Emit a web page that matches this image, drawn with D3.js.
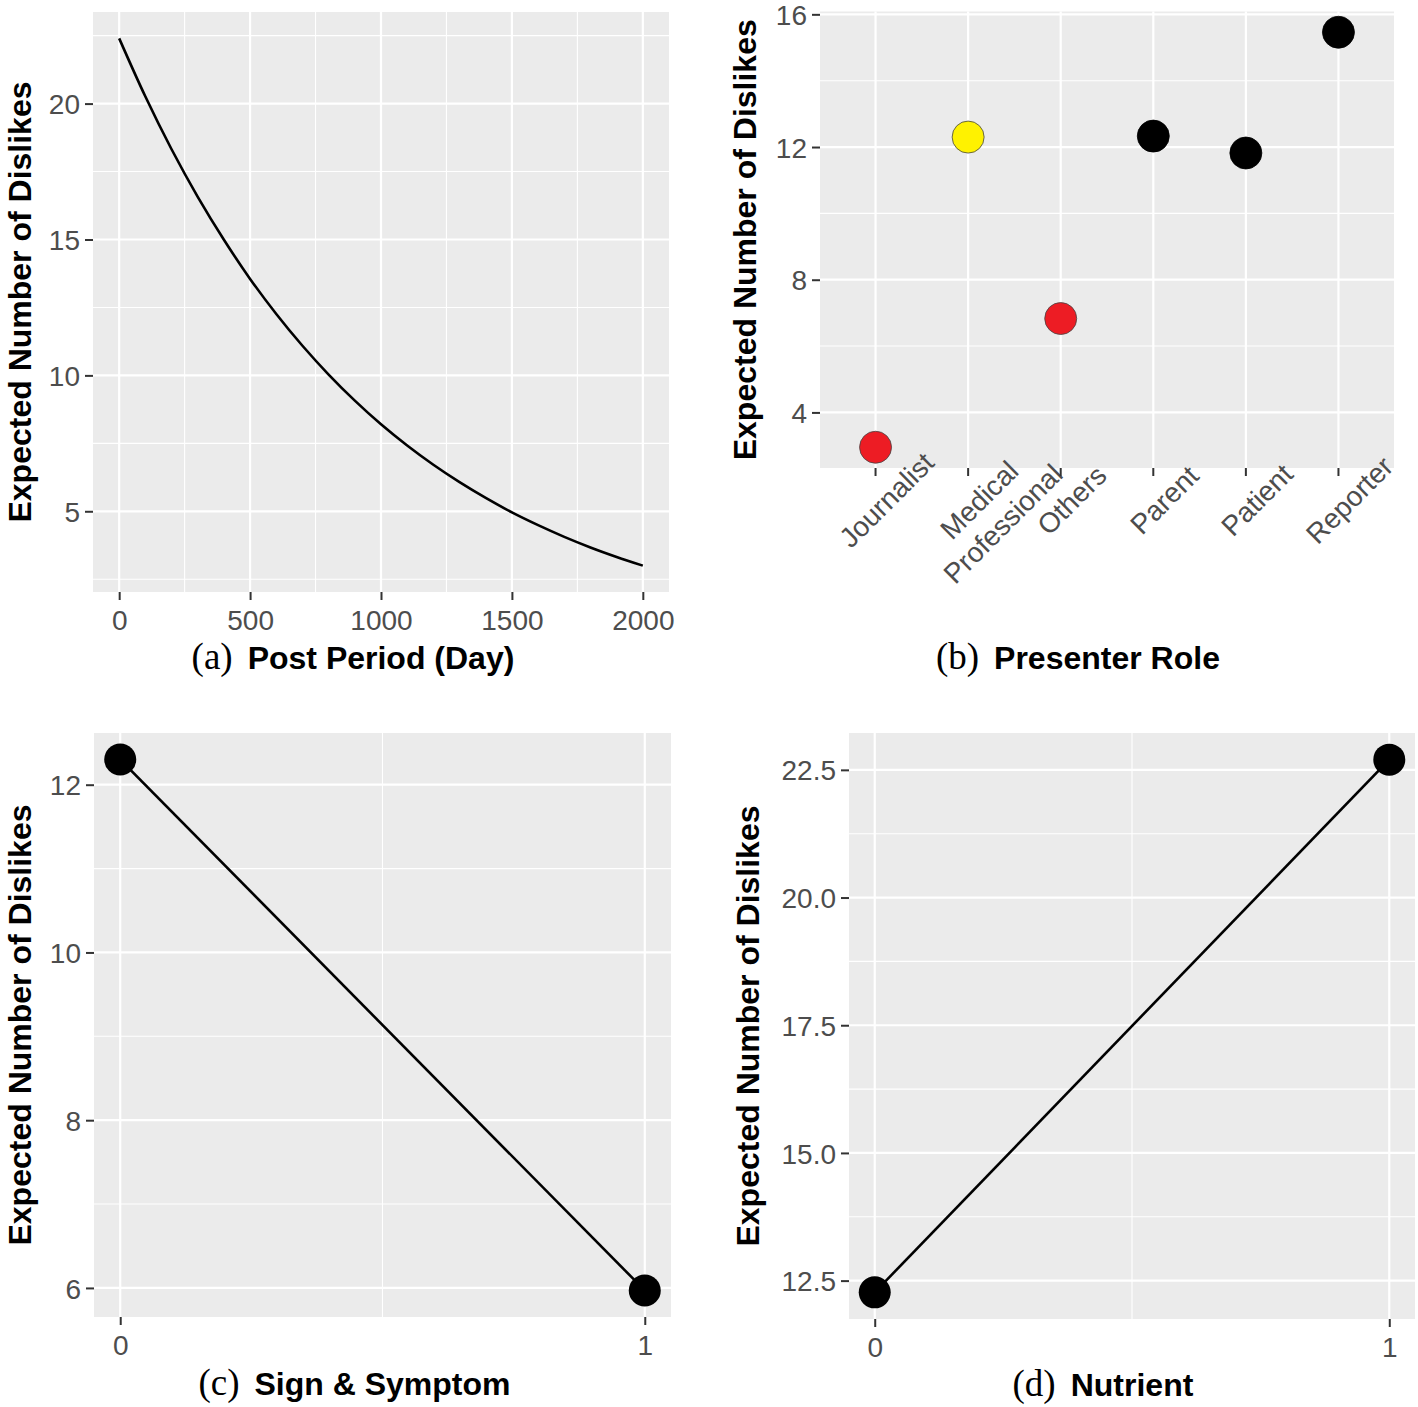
<!DOCTYPE html>
<html>
<head>
<meta charset="utf-8">
<script src="https://cdn.jsdelivr.net/npm/d3@7"></script>
<style>
  html, body { margin: 0; padding: 0; background: #ffffff; }
  svg { display: block; }
</style>
</head>
<body>
<svg id="chart" width="1418" height="1407"></svg>
<script>
// ---------------- DATA ----------------
// (a) Post Period (Day)
const periodDays = [0, 100, 200, 300, 400, 500, 600, 700, 800, 900, 1000,
                    1100, 1200, 1300, 1400, 1500, 1600, 1700, 1800, 1900, 2000];
const periodDislikes = [22.4, 20.26, 18.32, 16.57, 14.99, 13.55, 12.26, 11.09, 10.03, 9.07, 8.2,
                        7.42, 6.71, 6.07, 5.49, 4.96, 4.49, 4.06, 3.67, 3.32, 3.0];
const periodTicksX = [0, 500, 1000, 1500, 2000];
const periodTicksY = [5, 10, 15, 20];

// (b) Presenter Role
const roles = ["Journalist", "Medical\nProfessional", "Others", "Parent", "Patient", "Reporter"];
const roleDislikes = [2.95, 12.3, 6.83, 12.33, 11.82, 15.46];
const roleColors = ["#ED1C24", "#FFF200", "#ED1C24", "#000000", "#000000", "#000000"];
const roleTicksY = [4, 8, 12, 16];

// (c) Sign & Symptom
const signLevels = [0, 1];
const signDislikes = [12.3, 5.97];
const signTicksY = [6, 8, 10, 12];

// (d) Nutrient
const nutrientLevels = [0, 1];
const nutrientDislikes = [12.27, 22.7];
const nutrientTicksY = [12.5, 15, 17.5, 20, 22.5];

const binaryTicksX = [0, 1];

const yTitle = "Expected Number of Dislikes";

// ---------------- STYLE ----------------
const SANS = "'Liberation Sans', Arial, sans-serif";
const SERIF = "'Liberation Serif', 'Times New Roman', serif";
const BG = "#EBEBEB";
const TICK_TEXT = "#4D4D4D";
const TICK_LINE = "#333333";

const svg = d3.select("#chart");

function expand(ext, f) {
  const span = ext[1] - ext[0];
  return [ext[0] - span * f, ext[1] + span * f];
}
function midpoints(ticks, domain) {
  const out = [];
  const step = ticks[1] - ticks[0];
  const all = [ticks[0] - step].concat(ticks).concat([ticks[ticks.length - 1] + step]);
  for (let i = 0; i < all.length - 1; i++) {
    const m = (all[i] + all[i + 1]) / 2;
    if (m >= domain[0] && m <= domain[1]) out.push(m);
  }
  return out;
}

function panelFrame(box) {
  const g = svg.append("g");
  g.append("rect")
    .attr("x", box.left).attr("y", box.top)
    .attr("width", box.right - box.left).attr("height", box.bottom - box.top)
    .attr("fill", BG);
  return g;
}

function gridY(g, box, y, major, minor) {
  minor.forEach(v => g.append("line")
    .attr("x1", box.left).attr("x2", box.right)
    .attr("y1", y(v)).attr("y2", y(v))
    .attr("stroke", "#fff").attr("stroke-width", 1.1));
  major.forEach(v => g.append("line")
    .attr("x1", box.left).attr("x2", box.right)
    .attr("y1", y(v)).attr("y2", y(v))
    .attr("stroke", "#fff").attr("stroke-width", 2.2));
}
function gridX(g, box, xs, majorWidth, minorXs) {
  (minorXs || []).forEach(px => g.append("line")
    .attr("x1", px).attr("x2", px)
    .attr("y1", box.top).attr("y2", box.bottom)
    .attr("stroke", "#fff").attr("stroke-width", 1.1));
  xs.forEach(px => g.append("line")
    .attr("x1", px).attr("x2", px)
    .attr("y1", box.top).attr("y2", box.bottom)
    .attr("stroke", "#fff").attr("stroke-width", majorWidth));
}

function styleAxis(sel, fontSize) {
  sel.select(".domain").remove();
  sel.selectAll(".tick line").attr("stroke", TICK_LINE).attr("stroke-width", 2);
  sel.selectAll(".tick text")
    .attr("fill", TICK_TEXT)
    .style("font-family", SANS)
    .style("font-size", fontSize + "px");
}

function yAxis(box, y, ticks, fmt) {
  const ax = svg.append("g").attr("transform", `translate(${box.left},0)`)
    .call(d3.axisLeft(y).tickValues(ticks).tickSize(8).tickPadding(5).tickFormat(fmt));
  styleAxis(ax, 28);
  ax.selectAll(".tick text").attr("dy", "0.36em");
}
function xAxis(box, x, ticks, fmt) {
  const ax = svg.append("g").attr("transform", `translate(0,${box.bottom})`)
    .call(d3.axisBottom(x).tickValues(ticks).tickSize(8).tickPadding(5).tickFormat(fmt));
  styleAxis(ax, 28);
  ax.selectAll(".tick text").attr("dy", "0.9em");
}

function yTitleText(box, cx) {
  const cy = (box.top + box.bottom) / 2;
  svg.append("text")
    .attr("transform", `translate(${cx},${cy}) rotate(-90)`)
    .attr("text-anchor", "middle")
    .attr("dominant-baseline", "central")
    .style("font-family", SANS).style("font-weight", "bold").style("font-size", "32px")
    .attr("fill", "#000")
    .text(yTitle);
}

function caption(box, letter, title, baseline) {
  const cx = (box.left + box.right) / 2;
  const t = svg.append("text")
    .attr("x", cx).attr("y", baseline)
    .attr("text-anchor", "middle")
    .style("font-family", SANS).style("font-weight", "bold").style("font-size", "32px")
    .attr("fill", "#000")
    .text(title);
  const bb = t.node().getBBox();
  svg.append("text")
    .attr("x", bb.x - 15).attr("y", baseline)
    .attr("text-anchor", "end")
    .style("font-family", SERIF).style("font-size", "37px")
    .attr("fill", "#000")
    .text(letter);
}

// ---------------- PANEL (a) ----------------
{
  const box = { left: 93, right: 669, top: 12, bottom: 592 };
  const x = d3.scaleLinear().domain(expand(d3.extent(periodDays), 0.05)).range([box.left, box.right]);
  const y = d3.scaleLinear().domain(expand(d3.extent(periodDislikes), 0.05)).range([box.bottom, box.top]);
  const g = panelFrame(box);
  gridY(g, box, y, periodTicksY, midpoints(periodTicksY, y.domain()));
  gridX(g, box, periodTicksX.map(x), 2.2, midpoints(periodTicksX, x.domain()).map(x));
  const pts = periodDays.map((d, i) => [d, periodDislikes[i]]);
  g.append("path")
    .attr("d", d3.line().x(d => x(d[0])).y(d => y(d[1])).curve(d3.curveCatmullRom)(pts))
    .attr("fill", "none").attr("stroke", "#000").attr("stroke-width", 2.6);
  yAxis(box, y, periodTicksY, d3.format("d"));
  xAxis(box, x, periodTicksX, d3.format("d"));
  yTitleText(box, 20);
  caption(box, "(a)", "Post Period (Day)", 669);
}

// ---------------- PANEL (b) ----------------
{
  const box = { left: 820, right: 1394, top: 11.5, bottom: 468 };
  const x = d3.scalePoint().domain(roles).range([box.left, box.right]).padding(0.6);
  const y = d3.scaleLinear().domain(expand(d3.extent(roleDislikes), 0.05)).range([box.bottom, box.top]);
  const g = panelFrame(box);
  gridY(g, box, y, roleTicksY, midpoints(roleTicksY, y.domain()));
  gridX(g, box, roles.map(x), 2.2);
  roles.forEach((r, i) => {
    g.append("circle")
      .attr("cx", x(r)).attr("cy", y(roleDislikes[i])).attr("r", 16)
      .attr("fill", roleColors[i])
      .attr("stroke", roleColors[i] === "#000000" ? "#000" : "#444")
      .attr("stroke-width", 0.8);
  });
  yAxis(box, y, roleTicksY, d3.format("d"));
  // x ticks
  roles.forEach(r => {
    svg.append("line")
      .attr("x1", x(r)).attr("x2", x(r))
      .attr("y1", box.bottom).attr("y2", box.bottom + 8)
      .attr("stroke", TICK_LINE).attr("stroke-width", 2);
    const lines = r.split("\n");
    const t = svg.append("text")
      .attr("transform", `translate(${x(r) + 11},${box.bottom + 32}) rotate(-45)`)
      .attr("text-anchor", "middle")
      .attr("fill", TICK_TEXT)
      .style("font-family", SANS).style("font-size", "28px");
    lines.forEach((ln, k) => {
      t.append("tspan").attr("x", 0).attr("dy", k === 0 ? "0.35em" : "1.2em").text(ln);
    });
  });
  yTitleText(box, 745);
  caption(box, "(b)", "Presenter Role", 669);
}

// ---------------- PANEL (c) ----------------
{
  const box = { left: 94, right: 671, top: 733, bottom: 1317 };
  const x = d3.scaleLinear().domain(expand(d3.extent(signLevels), 0.05)).range([box.left, box.right]);
  const y = d3.scaleLinear().domain(expand(d3.extent(signDislikes), 0.05)).range([box.bottom, box.top]);
  const g = panelFrame(box);
  gridY(g, box, y, signTicksY, midpoints(signTicksY, y.domain()));
  gridX(g, box, binaryTicksX.map(x), 2.2, midpoints(binaryTicksX, x.domain()).map(x));
  const pts = signLevels.map((d, i) => [d, signDislikes[i]]);
  g.append("path")
    .attr("d", d3.line().x(d => x(d[0])).y(d => y(d[1]))(pts))
    .attr("fill", "none").attr("stroke", "#000").attr("stroke-width", 2.6);
  pts.forEach(p => g.append("circle").attr("cx", x(p[0])).attr("cy", y(p[1])).attr("r", 16).attr("fill", "#000"));
  yAxis(box, y, signTicksY, d3.format("d"));
  xAxis(box, x, binaryTicksX, d3.format("d"));
  yTitleText(box, 20);
  caption(box, "(c)", "Sign & Symptom", 1395);
}

// ---------------- PANEL (d) ----------------
{
  const box = { left: 849, right: 1415, top: 733, bottom: 1319 };
  const x = d3.scaleLinear().domain(expand(d3.extent(nutrientLevels), 0.05)).range([box.left, box.right]);
  const y = d3.scaleLinear().domain(expand(d3.extent(nutrientDislikes), 0.05)).range([box.bottom, box.top]);
  const g = panelFrame(box);
  gridY(g, box, y, nutrientTicksY, midpoints(nutrientTicksY, y.domain()));
  gridX(g, box, binaryTicksX.map(x), 2.2, midpoints(binaryTicksX, x.domain()).map(x));
  const pts = nutrientLevels.map((d, i) => [d, nutrientDislikes[i]]);
  g.append("path")
    .attr("d", d3.line().x(d => x(d[0])).y(d => y(d[1]))(pts))
    .attr("fill", "none").attr("stroke", "#000").attr("stroke-width", 2.6);
  pts.forEach(p => g.append("circle").attr("cx", x(p[0])).attr("cy", y(p[1])).attr("r", 16).attr("fill", "#000"));
  yAxis(box, y, nutrientTicksY, d3.format(".1f"));
  xAxis(box, x, binaryTicksX, d3.format("d"));
  yTitleText(box, 748);
  caption(box, "(d)", "Nutrient", 1396);
}
</script>
</body>
</html>
